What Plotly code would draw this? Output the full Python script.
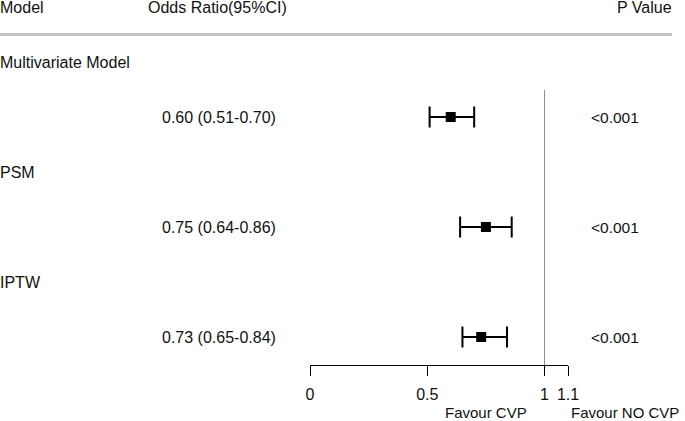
import plotly.graph_objects as go

# ---- data ----
groups = ["Multivariate Model", "PSM", "IPTW"]
odds_ratio = [0.60, 0.75, 0.73]
ci_lower = [0.51, 0.64, 0.65]
ci_upper = [0.70, 0.86, 0.84]
or_labels = ["0.60 (0.51-0.70)", "0.75 (0.64-0.86)", "0.73 (0.65-0.84)"]
p_values = ["<0.001", "<0.001", "<0.001"]
tick_vals = [0, 0.5, 1, 1.1]
tick_text = ["0", "0.5", "1", "1.1"]

W, H = 685, 421
FONT = "Liberation Sans, Arial, sans-serif"
ROW = 55.0
TOP_PX = 7.0
AXIS_PX = 365.0

def k_of(px):
    return (px - TOP_PX) / ROW

row_y = [2 * (i + 1) for i in range(len(groups))]     # estimate rows
grp_y = [2 * i + 1 for i in range(len(groups))]       # group title rows

fig = go.Figure()
fig.add_trace(go.Scatter(
    x=odds_ratio, y=row_y, mode="markers",
    marker=dict(symbol="square", size=10, color="black"),
    error_x=dict(type="data", symmetric=False,
                 array=[u - o for u, o in zip(ci_upper, odds_ratio)],
                 arrayminus=[o - l for o, l in zip(odds_ratio, ci_lower)],
                 color="black", thickness=2, width=10.5),
    hoverinfo="skip", showlegend=False, cliponaxis=False,
))

x0px, x1px = 310.0, 568.0
fig.update_layout(
    width=W, height=H,
    margin=dict(l=0, r=0, t=0, b=H - AXIS_PX, autoexpand=False),
    paper_bgcolor="white", plot_bgcolor="white",
    showlegend=False,
    font=dict(family=FONT, size=16, color="black"),
    xaxis=dict(domain=[x0px / W, x1px / W], range=[0, 1.1],
               showgrid=False, zeroline=False, showline=True, linecolor="black",
               linewidth=1, ticks="outside", ticklen=10, tickcolor="black",
               tickwidth=1, tickvals=tick_vals, ticktext=tick_text,
               ticklabelstandoff=5,
               tickfont=dict(size=16, family=FONT, color="#111111")),
    yaxis=dict(range=[k_of(AXIS_PX), k_of(0)], visible=False, showgrid=False,
               zeroline=False),
)

# reference line at OR = 1
fig.add_shape(type="line", xref="x", yref="y", x0=1, x1=1,
              y0=k_of(90), y1=k_of(AXIS_PX), line=dict(color="#8c8c8c", width=1))
# header separator
sep_y = 1 - 34.5 / AXIS_PX
fig.add_shape(type="line", xref="paper", yref="paper", x0=0, x1=672 / W,
              y0=sep_y, y1=sep_y, line=dict(color="#c4c4c4", width=3))

def txt(x_px, y, s, anchor="left", size=16):
    fig.add_annotation(x=x_px / W, y=y, xref="paper", yref="y", text=s,
                       showarrow=False, xanchor=anchor, yanchor="middle",
                       borderpad=0, borderwidth=0,
                       font=dict(size=size, family=FONT, color="#111111"))

# headers
txt(0, 0, "Model")
txt(148, 0, "Odds Ratio(95%CI)")
txt(672, 0, "P Value", "right")

for g, gy, lab, ry, p in zip(groups, grp_y, or_labels, row_y, p_values):
    txt(0, gy, g)
    txt(162, ry, lab, size=16)
    txt(639, ry, p, "right", size=15.5)

# favour labels
for s, cx in [("Favour CVP", 486), ("Favour NO CVP", 625)]:
    fig.add_annotation(x=cx / W, y=-(412 - AXIS_PX) / (AXIS_PX), xref="paper", yref="paper",
                       text=s, showarrow=False, xanchor="center", yanchor="middle",
                       borderpad=0, borderwidth=0,
                       font=dict(size=15, family=FONT, color="#111111"))

fig.write_html("out.html",
               config={"displayModeBar": False, "staticPlot": True},
               post_script="document.body.style.margin='0';document.body.style.padding='0';")
